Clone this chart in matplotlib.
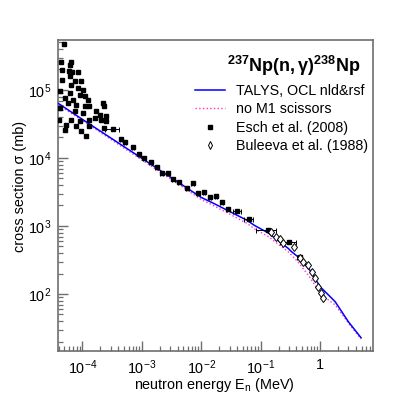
#!/usr/bin/env python3

import numpy as np
import matplotlib
matplotlib.use("Agg")
import matplotlib.pyplot as plt
from matplotlib.ticker import LogLocator, FixedLocator, NullFormatter

plt.rcParams['font.family'] = ['Liberation Sans', 'DejaVu Sans']
plt.rcParams['mathtext.fontset'] = 'custom'
plt.rcParams['mathtext.rm'] = 'Liberation Sans'
plt.rcParams['mathtext.it'] = 'Liberation Sans:italic'
plt.rcParams['mathtext.bf'] = 'Liberation Sans:bold'

# TALYS curves (MeV, mb)
talys_e = [4e-5, 1e-4, 1e-3, 1e-2, 0.016, 0.058, 0.08, 0.134, 0.289, 0.33,
           0.455, 0.67, 1.0, 1.79, 2.99, 4.88]
talys_xs = [6.3e4, 3.7e4, 9.9e3, 2.63e3, 2.16e3, 1.22e3, 1.01e3, 790, 470, 419,
            335, 225, 128, 77, 39, 22.7]
nom1_e = [4e-5, 1e-4, 1e-3, 1e-2, 0.016, 0.058, 0.08, 0.134, 0.289, 0.42,
          0.63, 1.05, 1.79, 3.16, 4.88]
nom1_xs = [6.0e4, 3.55e4, 9.4e3, 2.45e3, 2.0e3, 1.1e3, 900, 700, 419, 299,
           190, 97, 69, 35, 21.8]

# Esch et al. (2008), resonance region
esch_lo_e = [4.85e-5, 4.44e-5, 6.53e-5, 6.12e-5, 4.62e-5, 5.98e-5, 6.79e-5, 8.47e-5,
             4.62e-5, 6.12e-5, 7.43e-5, 9.62e-5, 6.53e-5, 8.47e-5, 1.03e-4, 4.16e-5,
             6.12e-5, 9.0e-5, 1.09e-4, 5.05e-5, 6.98e-5, 1.25e-4, 5.75e-5, 7.92e-5,
             1.09e-4, 1.32e-4, 4.16e-5, 2.22e-4, 2.36e-4, 1.72e-4, 1.95e-4, 2.53e-4,
             7.43e-5, 1.03e-4, 4.1e-5, 6.53e-5, 9.0e-5, 1.32e-4, 1.61e-4, 2.08e-4,
             2.53e-4, 5.4e-5, 7.92e-5, 1.32e-4, 2.36e-4, 5.05e-5, 1.17e-4, 9.62e-5]
esch_lo_xs = [4.74e5, 2.58e5, 2.58e5, 2.36e5, 1.99e5, 1.88e5, 1.82e5, 1.82e5,
              1.42e5, 1.59e5, 1.34e5, 1.34e5, 1.20e5, 1.07e5, 1.01e5, 9.57e4,
              9.04e4, 8.53e4, 8.08e4, 7.63e4, 7.2e4, 7.2e4, 6.44e4, 6.08e4,
              5.76e4, 5.76e4, 5.43e4, 6.44e4, 5.76e4, 4.86e4, 4.34e4, 4.1e4,
              4.86e4, 4.59e4, 3.66e4, 3.66e4, 3.46e4, 3.66e4, 3.87e4, 3.66e4,
              3.46e4, 3.09e4, 2.92e4, 2.92e4, 2.76e4, 2.61e4, 2.08e4, 2.47e4]

# Esch et al. (2008), averaged points with energy bins
esch_hi_e = [3.27e-4, 4.46e-4, 5.26e-4, 7.09e-4, 9.15e-4, 1.11e-3, 1.42e-3, 1.79e-3,
             2.17e-3, 2.81e-3, 3.4e-3, 4.3e-3, 5.85e-3, 7.2e-3, 8.93e-3, 1.11e-2,
             1.41e-2, 1.77e-2, 2.21e-2, 2.85e-2, 4.04e-2, 6.34e-2, 0.134, 0.30, 0.455]
esch_hi_xs = [2.7e4, 1.9e4, 1.74e4, 1.44e4, 1.15e4, 9.9e3, 8.83e3, 7.45e3,
              6.08e3, 6.08e3, 4.86e3, 4.48e3, 3.58e3, 4.25e3, 3.03e3, 3.19e3,
              2.64e3, 2.79e3, 2.23e3, 1.78e3, 1.66e3, 1.26e3, 870, 590, 354]
esch_hi_de = [0.25, 0.05, 0.05, 0.05, 0.05, 0.05, 0.05, 0.05,
              0.05, 0.05, 0.05, 0.05, 0.05, 0.05, 0.05, 0.05,
              0.05, 0.05, 0.05, 0.05, 0.15, 0.18, 0.37, 0.3, 0.1]

# Buleeva et al. (1988)
bul_e = [0.152, 0.18, 0.21, 0.239, 0.365, 0.467, 0.516, 0.627, 0.743, 0.811,
         0.923, 1.05, 1.12]
bul_xs = [824, 696, 637, 557, 487, 335, 299, 267, 213, 170, 128, 102, 86]

fig = plt.figure(figsize=(4.15, 3.99), dpi=100)
ax = fig.add_axes([58/415, 48/399, 315/415, 311/399])

ax.plot(talys_e, talys_xs, color='#0000ff', lw=1.1, label='TALYS, OCL nld&rsf', zorder=3)
ax.plot(nom1_e, nom1_xs, color='#ff33cc', lw=1.0, ls=':', label='no M1 scissors', zorder=2)

ax.plot(esch_lo_e, esch_lo_xs, 's', color='black', ms=3.4, ls='none',
        label='Esch et al. (2008)', zorder=4)
he = np.array(esch_hi_e)
ax.errorbar(he, esch_hi_xs, xerr=he * np.array(esch_hi_de), fmt='s', color='black',
            ms=3.4, elinewidth=0.7, capsize=1.8, capthick=0.7, zorder=4)
ax.plot(bul_e, bul_xs, 'd', mfc='white', mec='black', mew=0.7, ms=4.4, ls='none',
        label='Buleeva et al. (1988)', zorder=5)

ax.set_xscale('log')
ax.set_yscale('log')
ax.set_xlim(3.9e-5, 7.75)
ax.set_ylim(14.5, 5.43e5)

ax.xaxis.set_major_locator(FixedLocator([1e-4, 1e-3, 1e-2, 1e-1, 1]))
ax.set_xticklabels([r'$10^{-4}$', r'$10^{-3}$', r'$10^{-2}$', r'$10^{-1}$', '1'])
ax.xaxis.set_minor_locator(LogLocator(base=10, subs=np.arange(2, 10), numticks=20))
ax.xaxis.set_minor_formatter(NullFormatter())
ax.yaxis.set_major_locator(FixedLocator([1e2, 1e3, 1e4, 1e5]))
ax.set_yticklabels([r'$10^{2}$', r'$10^{3}$', r'$10^{4}$', r'$10^{5}$'])
ax.yaxis.set_minor_locator(LogLocator(base=10, subs=np.arange(2, 10), numticks=20))
ax.yaxis.set_minor_formatter(NullFormatter())

for s in ax.spines.values():
    s.set_color('#6e6e6e')
    s.set_linewidth(1.2)
ax.tick_params(which='both', direction='in', top=False, right=False,
               color='#6e6e6e', labelsize=10.4, labelcolor='black')
ax.tick_params(which='major', length=7, width=1.0, pad=5)
ax.tick_params(which='minor', length=3.5, width=0.9)

ax.set_xlabel(r'neutron energy E$_{\mathrm{n}}$ (MeV)', fontsize=10.4)
ax.set_ylabel(r'cross section σ (mb)', fontsize=10.4)
ax.xaxis.set_label_coords(0.497, -0.080)
ax.yaxis.set_label_coords(-0.100, 0.529)

ax.text(0.749, 0.917, r'$\mathbf{^{237}Np(n,γ)^{238}Np}$', transform=ax.transAxes,
        ha='center', va='center', fontsize=13)

ax.legend(loc='upper left', bbox_to_anchor=(0.435, 0.858), frameon=False,
          fontsize=10.3, handlelength=2.1, handletextpad=0.75, labelspacing=0.3,
          borderpad=0, borderaxespad=0, markerscale=0.9)

fig.savefig('out.png', dpi=100)
